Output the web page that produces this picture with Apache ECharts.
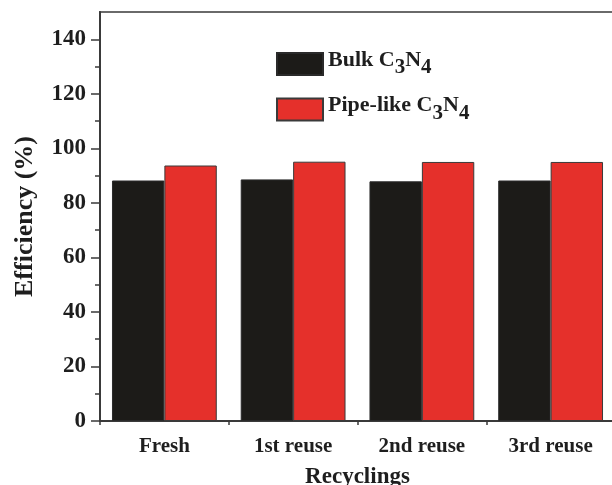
<!DOCTYPE html>
<html>
<head>
<meta charset="utf-8">
<script src="https://cdn.jsdelivr.net/npm/echarts@6/dist/echarts.min.js"></script>
<style>
  html, body { margin: 0; padding: 0; background: #fff; }
  #chart { width: 612px; height: 485px; }
</style>
</head>
<body>
<div id="chart"></div>
<script>
// Photocatalytic efficiency over repeated recycling runs
const categories = ['Fresh', '1st reuse', '2nd reuse', '3rd reuse'];
const bulkValues = [88.2, 88.6, 87.9, 88.2];
const pipeValues = [93.7, 95.1, 95.0, 95.0];
const seriesNames = ['Bulk C3N4', 'Pipe-like C3N4'];
const yMajorTicks = [0, 20, 40, 60, 80, 100, 120, 140];
const yMinorTicks = [10, 30, 50, 70, 90, 110, 130];

const FONT = '"Liberation Serif", "Times New Roman", serif';
const INK = '#1e1e1e';
const AXIS = '#3a3a3a';

const chart = echarts.init(document.getElementById('chart'), null, { renderer: 'canvas' });

// "C3N4" -> "C{s|3}N{s|4}" so the digits render as subscripts
function chemLabel(name) {
  return name.replace(/(C)(\d)(N)(\d)/, '{n|$1}{s|$2}{n|$3}{s|$4}').replace(/^([^{]+)/, '{n|$1}');
}

chart.setOption({
  backgroundColor: '#fff',
  animation: false,
  grid: {
    left: 100, top: 12, right: -3, bottom: 64,
    outerBoundsMode: 'none',
    containLabel: false,
    show: true, borderColor: '#6a6a6a', borderWidth: 2, backgroundColor: 'transparent'
  },
  legend: {
    data: seriesNames,
    orient: 'vertical',
    left: 276, top: 49,
    padding: 0,
    itemWidth: 46, itemHeight: 22, itemGap: 16,
    icon: 'rect',
    formatter: chemLabel,
    textStyle: {
      color: INK,
      rich: {
        n: { fontFamily: FONT, fontWeight: 'bold', fontSize: 22, color: INK, padding: [0, 0, 8, 0] },
        s: { fontFamily: FONT, fontWeight: 'bold', fontSize: 21, color: INK, padding: [8, 0, 0, 0] }
      }
    }
  },
  xAxis: [
    {
      type: 'category',
      data: categories,
      position: 'bottom',
      name: 'Recyclings',
      nameLocation: 'middle',
      nameGap: 45,
      nameTextStyle: { fontFamily: FONT, fontWeight: 'bold', fontSize: 23, color: INK, verticalAlign: 'top' },
      axisLine: { lineStyle: { color: AXIS, width: 2 } },
      axisTick: { alignWithLabel: true, length: 8, lineStyle: { color: AXIS, width: 1.5 } },
      axisLabel: { margin: 15, fontFamily: FONT, fontWeight: 'bold', fontSize: 21, color: INK },
      splitLine: { show: false }
    },
    {
      // boundary ticks between categories
      type: 'category',
      data: categories,
      position: 'bottom',
      axisLine: { show: false },
      axisTick: { show: true, length: 4, lineStyle: { color: AXIS, width: 1.5 } },
      axisLabel: { show: false },
      splitLine: { show: false }
    }
  ],
  yAxis: [
    {
      type: 'value',
      min: 0, max: 150,
      position: 'left',
      name: 'Efficiency (%)',
      nameLocation: 'middle',
      nameGap: 62,
      nameTextStyle: { fontFamily: FONT, fontWeight: 'bold', fontSize: 26, color: INK },
      axisLine: { show: true, lineStyle: { color: AXIS, width: 2 } },
      axisTick: { show: true, length: 9, customValues: yMajorTicks, lineStyle: { color: AXIS, width: 1.5 } },
      axisLabel: { customValues: yMajorTicks, margin: 14, fontFamily: FONT, fontWeight: 'bold', fontSize: 23, color: INK },
      splitLine: { show: false }
    },
    {
      // minor ticks
      type: 'value',
      min: 0, max: 150,
      position: 'left',
      axisLine: { show: false },
      axisTick: { show: true, length: 5, customValues: yMinorTicks, lineStyle: { color: AXIS, width: 1.5 } },
      axisLabel: { show: false },
      splitLine: { show: false }
    }
  ],
  series: [
    {
      name: seriesNames[0],
      type: 'bar',
      data: bulkValues,
      barGap: '0%',
      barCategoryGap: '18.6%',
      itemStyle: { color: '#1c1b18', borderColor: '#2a2a2a', borderWidth: 1 }
    },
    {
      name: seriesNames[1],
      type: 'bar',
      data: pipeValues,
      barGap: '0%',
      barCategoryGap: '18.6%',
      itemStyle: { color: '#e5302b', borderColor: '#3a3a3a', borderWidth: 1 }
    }
  ]
});
</script>
</body>
</html>
